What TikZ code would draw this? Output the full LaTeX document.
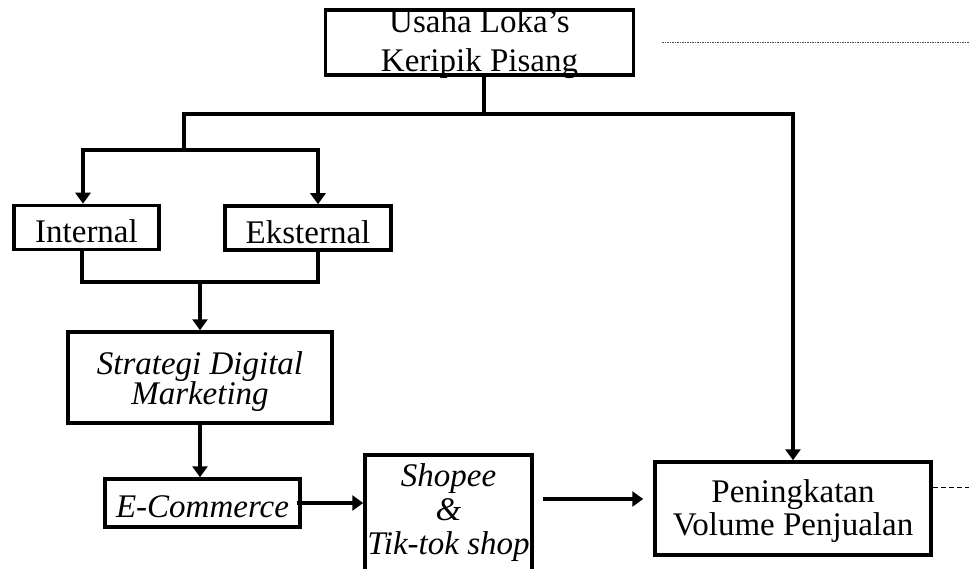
\documentclass[tikz,border=0pt]{standalone}
\usepackage{fontspec}
\setmainfont{Liberation Serif}
\usetikzlibrary{arrows.meta}
\tikzstyle{box} = [draw, line width=3.5pt, text centered, align=center, inner sep=0pt, font=\fontsize{33}{33}\selectfont]
\tikzstyle{slanted} = [font=\fontsize{33}{30}\selectfont\itshape]
\tikzstyle{link} = [line width=3.5pt]
\tikzstyle{arrow} = [link, -{Triangle[length=11pt,width=15pt]}]
\tikzstyle{dots} = [black!70, line width=1pt, dash pattern=on 1.5pt off 1pt]
\tikzstyle{dashes} = [line width=0.8pt, dash pattern=on 5pt off 3pt]

\begin{document}
\begin{tikzpicture}[x=1pt, y=-1pt]
    \useasboundingbox (0,0) rectangle (969,569);
    \node[box, minimum width=308pt, minimum height=65pt, text height=59pt, text depth=0pt, font=\fontsize{33}{39}\selectfont](1) at (479.5,42.5) {Usaha Loka's \\ Keripik Pisang};
    \node[box, minimum width=145pt, minimum height=44pt, text height=31pt, text depth=0pt](21) at (86.5,227.5) {Internal};
    \node[box, minimum width=166pt, minimum height=44pt, text height=31pt, text depth=0pt](22) at (308,228) {Eksternal};
    \node[box, slanted, minimum width=264pt, minimum height=91pt](3) at (200,377.5) {\rule{0pt}{31pt}Strategi Digital \\ Marketing};
    \node[box, slanted, minimum width=195pt, minimum height=48pt, text height=28pt, text depth=0pt](41) at (202.5,503) {E-Commerce};
    \node[box, minimum width=167pt, minimum height=125pt, font=\fontsize{33}{34}\selectfont\itshape](42) at (448.5,517.5) {Shopee \\ \& \\ Tik-tok shop\rule[-16pt]{0pt}{16pt}};
    \node[box, minimum width=276pt, minimum height=93pt](5) at (793,508.5) {\rule{0pt}{28.5pt}Peningkatan \\ Volume Penjualan};

    \coordinate (bar) at (0,114);
    \coordinate (fork) at (184,150);
    \coordinate (join) at (0,282);
    \coordinate (row) at (0,499);
    \coordinate (edge) at (969,0);
    \coordinate (top) at ([xshift=4.5pt]1.south);
    \coordinate (a) at ([xshift=-4.5pt]21.south);
    \coordinate (b) at ([xshift=10pt]22.south);
    \coordinate (c) at ([xshift=9pt]42.east);
    \coordinate (d) at ([xshift=-10pt]5.west);

    \draw[arrow] (top) -- (top |- bar) -| (5.north);
    \draw[link] (top |- bar) -| (fork);
    \draw[arrow] (fork) -| ([xshift=-3.5pt]21.north);
    \draw[arrow] (fork) -| ([xshift=10pt]22.north);
    \draw[link] (a) |- (b |- join) -- (b);
    \draw[arrow] (3.north |- join) -- (3.north);
    \draw[arrow] (3.south) -- (3.south |- 41.north);
    \draw[arrow] ([xshift=-5pt]41.east) -- (41.east -| 42.west);
    \draw[arrow] (c |- row) -- (d |- row);
    \draw[dots] ([xshift=27pt]1.east) -- (1.east -| edge);
    \draw[dashes] ([yshift=21.5pt]5.east) -- ([yshift=21.5pt]5.east -| edge);
\end{tikzpicture}
\end{document}
